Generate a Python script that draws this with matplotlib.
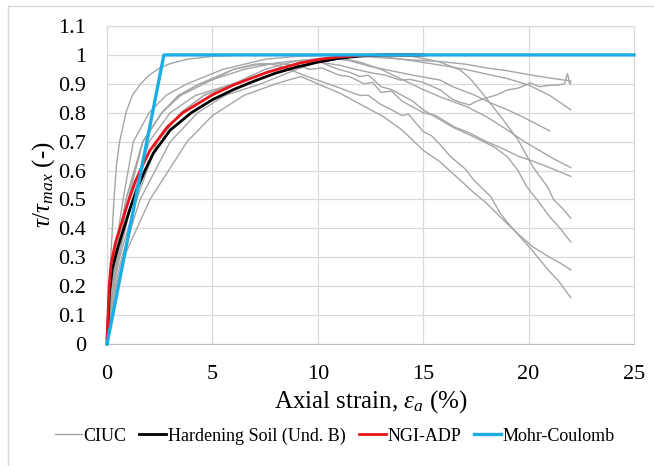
import numpy as np
import matplotlib
matplotlib.use("Agg")
import matplotlib.pyplot as plt
from matplotlib.lines import Line2D

plt.rcParams['font.family'] = 'Liberation Serif'
plt.rcParams['mathtext.fontset'] = 'custom'
plt.rcParams['mathtext.rm'] = 'Liberation Serif'
plt.rcParams['mathtext.it'] = 'Liberation Serif:italic'

# ── CIUC tests (axial strain %, tau/tau_max) ───────────────────────────
ciuc_1 = [(0, 0), (0.08, 0.15), (0.18, 0.3), (0.33, 0.5), (0.45, 0.62), (0.6, 0.7),
          (0.9, 0.8), (1.2, 0.86), (1.6, 0.9), (2.0, 0.93), (2.5, 0.955), (3.0, 0.97),
          (3.8, 0.985), (5.0, 0.995), (6.5, 1.0), (9, 1.0), (11, 0.998), (12.5, 0.993),
          (14, 0.985), (15.8, 0.977), (17, 0.968), (18, 0.955), (19, 0.945),
          (20, 0.932), (21, 0.92), (22, 0.91)]
ciuc_2 = [(0, 0), (0.2, 0.17), (0.45, 0.3), (1.0, 0.5), (1.7, 0.7), (2.6, 0.8),
          (3.4, 0.86), (4.4, 0.9), (6.5, 0.95), (8, 0.972), (9, 0.98), (10, 0.975),
          (11, 0.965), (11.8, 0.95), (12.6, 0.937), (13.2, 0.93), (13.9, 0.913),
          (14.4, 0.915), (15, 0.905), (15.8, 0.879), (16.4, 0.846), (16.8, 0.835),
          (17.2, 0.827), (17.6, 0.842), (18, 0.851), (18.5, 0.862), (19, 0.879),
          (19.5, 0.885), (20.1, 0.903), (20.5, 0.89), (21, 0.895), (21.4, 0.896),
          (21.7, 0.9), (21.85, 0.935), (21.95, 0.9), (22, 0.903)]
ciuc_3 = [(0, 0), (0.15, 0.17), (0.35, 0.3), (0.76, 0.5), (1.25, 0.7), (2.0, 0.8),
          (2.8, 0.86), (3.8, 0.9), (5.5, 0.95), (7.5, 0.985), (9, 0.995),
          (11, 1.0), (12.5, 1.0), (14, 0.985), (15.8, 0.965), (17, 0.95),
          (17.8, 0.937), (19, 0.918), (20, 0.896), (21, 0.86), (22, 0.81)]
ciuc_4 = [(0, 0), (0.25, 0.17), (0.55, 0.3), (1.2, 0.5), (2.0, 0.7), (3.0, 0.8),
          (4.2, 0.86), (6.0, 0.9), (7.5, 0.95), (9, 0.98), (10.5, 0.99),
          (11.5, 0.98), (12.5, 0.96), (13.5, 0.945), (14.5, 0.93), (15.8, 0.913),
          (16.4, 0.89), (17.4, 0.862), (18.2, 0.834), (19, 0.81), (19.7, 0.786),
          (20.4, 0.76), (21, 0.737)]
ciuc_5 = [(0, 0), (0.3, 0.17), (0.7, 0.3), (1.57, 0.5), (3.0, 0.7), (4.3, 0.8),
          (5.6, 0.86), (7.3, 0.9), (9, 0.95), (10, 0.975), (11, 0.99), (12, 0.975),
          (13, 0.95), (14, 0.915), (15, 0.88), (15.8, 0.855), (17.1, 0.82),
          (18, 0.786), (19, 0.74), (19.8, 0.7), (20.5, 0.67), (21.2, 0.64), (22, 0.61)]
ciuc_6 = [(0, 0), (0.18, 0.17), (0.4, 0.3), (0.9, 0.5), (1.7, 0.7), (2.6, 0.8),
          (3.4, 0.86), (4.4, 0.9), (6, 0.95), (7, 0.965), (8, 0.97), (9, 0.965),
          (9.6, 0.95), (10.2, 0.955), (11, 0.93), (11.5, 0.925), (12.2, 0.9),
          (12.6, 0.905), (13, 0.87), (13.5, 0.875), (14, 0.84), (15, 0.8),
          (15.6, 0.79), (16.5, 0.75), (17.2, 0.73), (18, 0.70), (18.8, 0.675),
          (19.5, 0.65), (20.3, 0.63), (21, 0.61), (21.5, 0.595), (22, 0.58)]
ciuc_7 = [(0, 0), (0.22, 0.17), (0.5, 0.3), (1.2, 0.5), (2.4, 0.7), (3.5, 0.8),
          (4.6, 0.86), (6.0, 0.9), (8, 0.95), (9.2, 0.975), (10.5, 0.99), (12, 0.997),
          (13, 1.0), (14.5, 0.995), (15.8, 0.975), (16.75, 0.948), (17.2, 0.92),
          (17.55, 0.89), (18.0, 0.85), (18.8, 0.775), (19.5, 0.706), (20.2, 0.613),
          (20.9, 0.543), (21.2, 0.498), (21.6, 0.47), (22, 0.435)]
ciuc_8 = [(0, 0), (0.25, 0.17), (0.6, 0.3), (1.4, 0.5), (2.4, 0.7), (3.5, 0.8),
          (4.6, 0.86), (6.0, 0.9), (8, 0.95), (9, 0.97), (10, 0.98), (10.6, 0.96),
          (11, 0.95), (11.5, 0.94), (12, 0.925), (12.4, 0.93), (13, 0.89),
          (13.5, 0.88), (14, 0.86), (14.5, 0.84), (15, 0.81), (15.7, 0.78),
          (16.4, 0.75), (17, 0.73), (17.7, 0.706), (18.4, 0.68), (19, 0.647),
          (19.5, 0.6), (19.9, 0.545), (20.5, 0.49), (21, 0.44), (21.5, 0.4),
          (22, 0.353)]
ciuc_9 = [(0, 0), (0.18, 0.17), (0.4, 0.3), (0.9, 0.5), (1.7, 0.7), (2.6, 0.8),
          (3.5, 0.86), (4.6, 0.9), (6.0, 0.95), (7.0, 0.968), (7.6, 0.97),
          (8.2, 0.962), (8.7, 0.948), (9.5, 0.925), (10.3, 0.905), (11.06, 0.885),
          (11.6, 0.87), (12, 0.86), (12.4, 0.86), (12.96, 0.83), (13.5, 0.81),
          (14, 0.79), (14.3, 0.795), (15, 0.735), (15.4, 0.72), (15.8, 0.69),
          (16.3, 0.648), (17, 0.605), (17.4, 0.567), (18.2, 0.51), (18.65, 0.453),
          (19.0, 0.42), (19.6, 0.37), (20.1, 0.33), (20.55, 0.29), (21, 0.25),
          (21.4, 0.22), (21.7, 0.19), (22, 0.16)]
ciuc_10 = [(0, 0), (0.35, 0.17), (0.8, 0.3), (2.04, 0.5), (3.8, 0.7), (5.0, 0.79),
           (6.5, 0.86), (8.0, 0.9), (8.7, 0.915), (9.2, 0.925), (10, 0.9),
           (11.06, 0.867), (12, 0.83), (13.1, 0.787), (14, 0.74), (15, 0.67),
           (15.8, 0.63), (16.75, 0.567), (17.3, 0.53), (18.0, 0.487), (18.65, 0.44),
           (19.3, 0.394), (20.2, 0.336), (21, 0.3), (21.5, 0.28), (22, 0.256)]

ciuc_tests = [ciuc_1, ciuc_2, ciuc_3, ciuc_4, ciuc_5,
              ciuc_6, ciuc_7, ciuc_8, ciuc_9, ciuc_10]

# ── Model curves ──────────────────────────────────────────────────────
hs_strain = [0, 0.05, 0.12, 0.25, 0.5, 0.8, 1.1, 1.45, 1.8, 2.2, 3.0, 4.0, 5.0,
             6.0, 7.0, 8.0, 9.0, 10.0, 11, 12, 13, 15]
hs_tau = [0.0, 0.08, 0.18, 0.26, 0.33, 0.40, 0.47, 0.54, 0.60, 0.66, 0.74, 0.80,
          0.845, 0.88, 0.91, 0.937, 0.958, 0.975, 0.988, 0.996, 1.0, 1.0]

ngi_strain = [0, 0.05, 0.1, 0.2, 0.4, 0.7, 1.0, 1.33, 1.7, 2.04, 2.85, 3.6, 5.0,
              6.0, 7.6, 9.16, 10.1, 11, 12, 13, 15]
ngi_tau = [0.02, 0.10, 0.20, 0.28, 0.35, 0.42, 0.49, 0.56, 0.62, 0.67, 0.75, 0.80,
           0.862, 0.896, 0.94, 0.972, 0.985, 0.993, 0.998, 1.0, 1.0]

mc_strain = [0, 2.7, 25]
mc_tau = [0, 1.0, 1.0]

x_ticks = [0, 5, 10, 15, 20, 25]
y_ticks = [0, 0.1, 0.2, 0.3, 0.4, 0.5, 0.6, 0.7, 0.8, 0.9, 1.0, 1.1]
y_tick_labels = ["0", "0.1", "0.2", "0.3", "0.4", "0.5", "0.6",
                 "0.7", "0.8", "0.9", "1", "1.1"]

# ── Figure ────────────────────────────────────────────────────────────
fig = plt.figure(figsize=(6.54, 4.66), dpi=100)
fig.patch.set_facecolor("white")
ax = fig.add_axes([107 / 654, 1 - 344 / 466, 527 / 654, 318 / 466])

for i, test in enumerate(ciuc_tests):
    xs = [p[0] for p in test]
    ys = [p[1] for p in test]
    ax.plot(xs, ys, color="#A6A6A6", linewidth=1.0, clip_on=False,
            label="CIUC" if i == 0 else None, zorder=2)

ax.plot(hs_strain, hs_tau, color="black", linewidth=2.0,
        label="Hardening Soil (Und. B)", clip_on=False, zorder=3)
ax.plot(ngi_strain, ngi_tau, color="#E8141B", linewidth=2.0,
        label="NGI-ADP", clip_on=False, zorder=4)
ax.plot(mc_strain, mc_tau, color="#1BAEE6", linewidth=2.4,
        label="Mohr-Coulomb", clip_on=False, zorder=5)

ax.set_xlim(0, 25)
ax.set_ylim(0, 1.1)
ax.set_xticks(x_ticks)
ax.set_yticks(y_ticks)
ax.set_yticklabels(y_tick_labels)
ax.tick_params(length=0, pad=15, labelsize=16)
ax.grid(True, color="#D9D9D9", linewidth=0.9)
ax.set_axisbelow(True)
for side in ["top", "right", "left"]:
    ax.spines[side].set_color("#D9D9D9")
ax.spines["bottom"].set_color("#BFBFBF")

ax.set_xlabel(r"Axial strain, $\varepsilon_a$ (%)", fontsize=18, labelpad=3)
ax.set_ylabel(r"$\tau/\tau_{max}$ (-)", fontsize=18, labelpad=1)

# chart-area border (only left and top are inside the picture)
fig.add_artist(Line2D([8 / 654, 8 / 654], [0, 1 - 6 / 466],
                      transform=fig.transFigure, color="#D9D9D9", lw=1))
fig.add_artist(Line2D([8 / 654, 1], [1 - 6 / 466, 1 - 6 / 466],
                      transform=fig.transFigure, color="#D9D9D9", lw=1))

handles, labels = ax.get_legend_handles_labels()
fig.legend(handles, labels, loc="center", bbox_to_anchor=(0.512, 0.064),
           ncol=4, frameon=False, fontsize=13, handlelength=1.5,
           handletextpad=0.1, columnspacing=0.7)

plt.savefig("out.png", dpi=100, facecolor="white")
